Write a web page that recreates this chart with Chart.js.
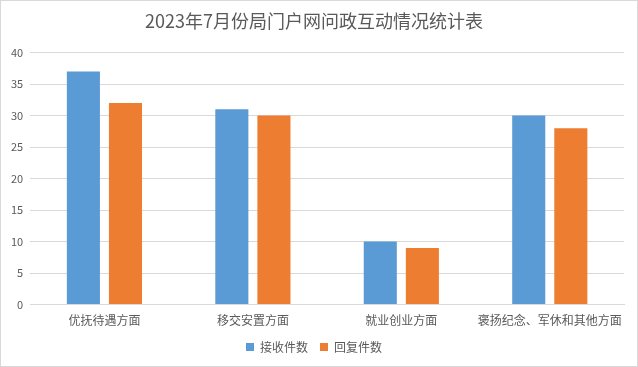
<!DOCTYPE html>
<html>
<head>
<meta charset="utf-8">
<script src="https://cdn.jsdelivr.net/npm/chart.js@4/dist/chart.umd.min.js"></script>
<style>
    html, body { margin: 0; padding: 0; background: #fff; }
    .wrap {
        width: 638px; height: 367px; box-sizing: border-box;
        border: 1px solid #d9d9d9; background: #fff; position: relative;
    }
    canvas { display: block; }
</style>
</head>
<body>
<div class="wrap"><canvas id="chart" width="636" height="365"></canvas></div>
<script>
// chart data
const categories = ['优抚待遇方面', '移交安置方面', '就业创业方面', '褒扬纪念、军休和其他方面'];
const received = [37, 31, 10, 30];
const replied = [32, 30, 9, 28];
const seriesNames = ['接收件数', '回复件数'];
const yTicks = [0, 5, 10, 15, 20, 25, 30, 35, 40];

const FONT = '"Noto Sans CJK SC", "Noto Sans", sans-serif';
const TEXT = '#595959';

document.addEventListener('DOMContentLoaded', () => {
    const ctx = document.getElementById('chart');

    new Chart(ctx, {
        type: 'bar',
        data: {
            labels: categories,
            datasets: [
                { label: seriesNames[0], data: received, backgroundColor: '#5B9BD5' },
                { label: seriesNames[1], data: replied, backgroundColor: '#ED7D31' }
            ]
        },
        options: {
            responsive: false,
            animation: false,
            categoryPercentage: 0.567,
            barPercentage: 0.786,
            layout: { padding: { left: 3, right: 13, top: 6, bottom: 3 } },
            plugins: {
                title: {
                    display: true,
                    text: '2023年7月份局门户网问政互动情况统计表',
                    color: TEXT,
                    font: { family: FONT, size: 18, weight: 'normal' },
                    padding: { top: 3, bottom: 21 }
                },
                legend: {
                    position: 'bottom',
                    labels: {
                        color: TEXT,
                        font: { family: FONT, size: 12 },
                        boxWidth: 8,
                        boxHeight: 8,
                        padding: 12
                    }
                },
                tooltip: { enabled: false }
            },
            scales: {
                x: {
                    grid: { display: false },
                    border: { color: '#d9d9d9' },
                    ticks: { color: TEXT, font: { family: FONT, size: 12 }, maxRotation: 0, padding: 1 }
                },
                y: {
                    min: 0,
                    max: 40,
                    afterBuildTicks: axis => { axis.ticks = yTicks.map(v => ({ value: v })); },
                    grid: { color: '#d9d9d9', drawTicks: false },
                    border: { display: false },
                    ticks: { color: TEXT, font: { family: FONT, size: 11 }, padding: 7 }
                }
            }
        }
    });
});
</script>
</body>
</html>
